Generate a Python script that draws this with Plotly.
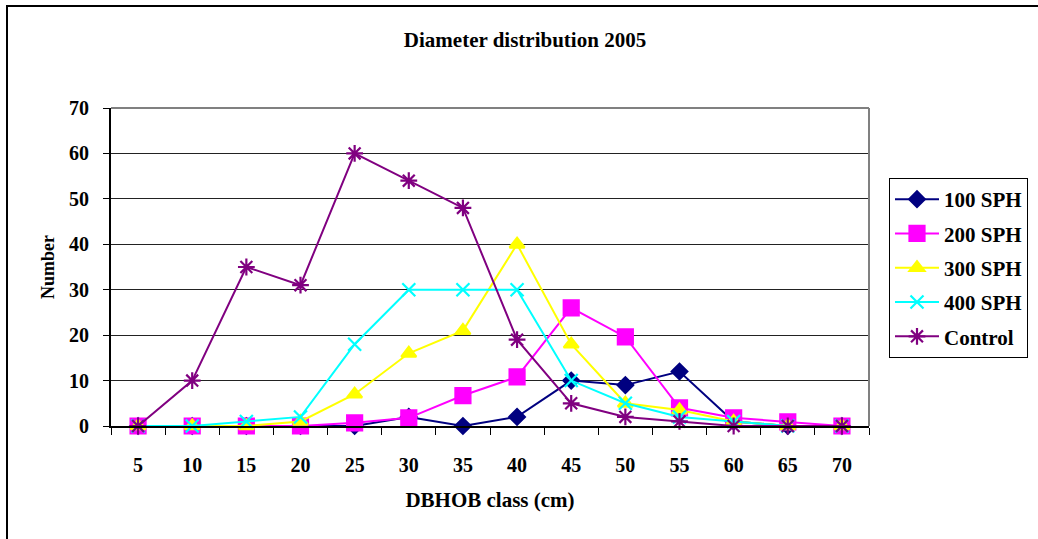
import plotly.graph_objects as go

# DBHOB diameter classes (cm)
classes = ["5", "10", "15", "20", "25", "30", "35", "40", "45", "50", "55", "60", "65", "70"]

# Stem counts per class for each thinning treatment
sph_100 = [0, 0, 0, 0, 0, 2, 0, 2, 10, 9, 12, 1, 0, 0]
sph_200 = [0, 0, 0, 0, 0.7, 1.8, 6.7, 10.8, 26, 19.6, 4, 1.8, 0.9, 0]
sph_300 = [0, 0, 0, 1, 7, 16, 21, 40, 18, 5, 3.5, 1, 0, 0]
sph_400 = [0, 0, 1, 2, 18, 30, 30, 30, 10, 5, 2, 1, 0, 0]
control = [0, 10, 35, 31, 60, 54, 48, 19, 5, 2, 1, 0, 0, 0]

series = [
    ("100 SPH", sph_100, "#000080", "diamond", 12),
    ("200 SPH", sph_200, "#FF00FF", "square", 15),
    ("300 SPH", sph_300, "#FFFF00", "triangle-up", 13),
    ("400 SPH", sph_400, "#00FFFF", "x-thin-open", 13),
    ("Control", control, "#800080", "asterisk-open", 14),
]

FONT = "'Liberation Serif', 'Times New Roman', serif"

fig = go.Figure()
for name, vals, color, symbol, size in series:
    fig.add_trace(go.Scatter(
        x=classes, y=vals, name="<b>" + name + "</b>", mode="lines+markers",
        legendgroup=name,
        line=dict(color=color, width=2),
        marker=dict(symbol=symbol, size=size, color=color,
                    line=dict(color=color, width=2.2)),
        cliponaxis=False,
    ))

W, H = 1038, 539
L, R, T, B = 111, 169, 108, 113
pw, ph = W - L - R, H - T - B

def px_x(p):
    return (p - L) / pw

def px_y(p):
    return (H - B - p) / ph

# Outer chart frame (left and top edges visible)
shapes = [
    dict(type="rect", xref="paper", yref="paper",
         x0=px_x(7), x1=px_x(1060), y0=px_y(560), y1=px_y(6),
         line=dict(color="black", width=2), fillcolor="rgba(0,0,0,0)", layer="below"),
    # plot area border: top and right in gray
    dict(type="line", xref="paper", yref="paper", x0=0, x1=1, y0=1, y1=1,
         line=dict(color="#808080", width=2)),
    dict(type="line", xref="paper", yref="paper", x0=1, x1=1, y0=0, y1=1,
         line=dict(color="#808080", width=2)),
]

fig.update_layout(
    width=W, height=H,
    margin=dict(l=L, r=R, t=T, b=B, autoexpand=False),
    paper_bgcolor="white", plot_bgcolor="white",
    font=dict(family=FONT, color="black", size=20),
    title=dict(text="<b>Diameter distribution 2005</b>", xref="container", x=525 / W,
               xanchor="center", yref="container", y=1 - 40 / H, yanchor="middle",
               font=dict(size=21, family=FONT)),
    xaxis=dict(
        type="category", range=[-0.5, 13.5],
        tickson="boundaries", ticks="outside", ticklen=7, tickcolor="black",
        showline=True, linecolor="black", linewidth=1.5,
        showgrid=False, zeroline=False,
        tickfont=dict(size=20, family=FONT),
        ticklabelstandoff=20,
        tickprefix="<b>", ticksuffix="</b>",
        title=dict(text="<b>DBHOB class (cm)</b>", font=dict(size=21, family=FONT), standoff=18),
    ),
    yaxis=dict(
        range=[0, 70], dtick=10, tick0=0,
        ticks="outside", ticklen=6, tickcolor="black",
        showline=True, linecolor="black", linewidth=2,
        showgrid=True, gridcolor="#222222", gridwidth=1,
        zeroline=False,
        tickfont=dict(size=20, family=FONT),
        ticklabelstandoff=10,
        tickprefix="<b>", ticksuffix="</b>",
        title=dict(text="<b>Number</b>", font=dict(size=18, family=FONT), standoff=10),
    ),
    legend=dict(
        x=px_x(889), y=px_y(178), xanchor="left", yanchor="top",
        bordercolor="black", borderwidth=1, bgcolor="white",
        font=dict(size=21, family=FONT), tracegroupgap=4,
        traceorder="grouped", itemwidth=44,
    ),
    shapes=shapes,
)

fig.write_html("out.html")
